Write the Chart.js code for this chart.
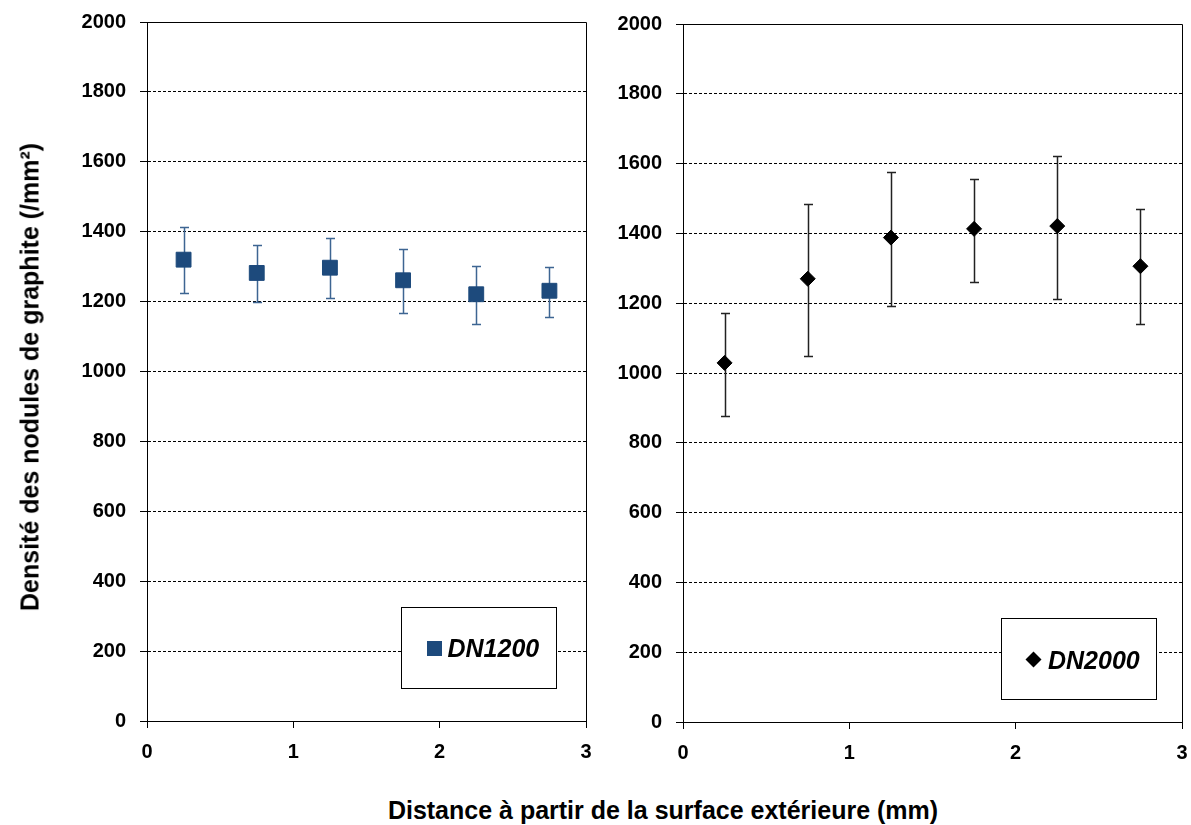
<!DOCTYPE html>
<html>
<head>
<meta charset="utf-8">
<script src="https://cdn.jsdelivr.net/npm/chart.js@4"></script>
<style>
  body { margin: 0; background: #fff; }
  #wrap { position: relative; width: 1191px; height: 825px; overflow: hidden; font-family: 'Liberation Sans', Arial, sans-serif; }
  canvas { position: absolute; top: 0; }
  #yTitle { position: absolute; left: 30px; top: 377px; transform: translate(-50%, -50%) rotate(-90deg); white-space: nowrap; font-weight: bold; font-size: 25px; color: #000; }
  #xTitle { position: absolute; left: 663px; top: 810px; transform: translate(-50%, -50%); white-space: nowrap; font-weight: bold; font-size: 25px; color: #000; }
</style>
</head>
<body>
<div id="wrap">
  <canvas id="left" width="600" height="790" style="left:0"></canvas>
  <canvas id="right" width="651" height="790" style="left:540px"></canvas>
  <div id="yTitle">Densité des nodules de graphite (/mm²)</div>
  <div id="xTitle">Distance à partir de la surface extérieure (mm)</div>
</div>
<script>
// distance (mm) of each measurement
const distances = [0.25, 0.75, 1.25, 1.75, 2.25, 2.75];

// DN1200 : mean and error bar ends
const dn1200 = [1320, 1282, 1297, 1261, 1221, 1231];
const dn1200Low = [1226, 1199, 1210, 1168, 1136, 1156];
const dn1200High = [1413, 1362, 1381, 1350, 1303, 1299];

// DN2000
const dn2000 = [1029, 1270, 1388, 1413, 1421, 1306];
const dn2000Low = [877, 1050, 1192, 1261, 1211, 1139];
const dn2000High = [1172, 1485, 1576, 1557, 1623, 1469];

const xMin = 0, xMax = 3, xStep = 1;
const yMin = 0, yMax = 2000, yStep = 200;

const FONT = "'Liberation Sans', Arial, sans-serif";

// vertical error bars with caps, drawn under the markers
const errorBars = {
  id: 'errorBars',
  beforeDatasetsDraw(chart, args, opts) {
    const { ctx, scales: { x, y } } = chart;
    ctx.save();
    ctx.strokeStyle = opts.color;
    ctx.lineWidth = opts.width;
    opts.low.forEach((lo, i) => {
      const px = Math.round(x.getPixelForValue(opts.xs[i])) + 0.5;
      const yl = Math.round(y.getPixelForValue(lo)) + 0.5;
      const yh = Math.round(y.getPixelForValue(opts.high[i])) + 0.5;
      ctx.beginPath();
      ctx.moveTo(px, yl); ctx.lineTo(px, yh);
      ctx.moveTo(px - opts.cap, yl); ctx.lineTo(px + opts.cap, yl);
      ctx.moveTo(px - opts.cap, yh); ctx.lineTo(px + opts.cap, yh);
      ctx.stroke();
    });
    ctx.restore();
  }
};

// solid top/right frame over the dashed 2000 line
const frame = {
  id: 'frame',
  afterDraw(chart) {
    const { ctx, chartArea: a } = chart;
    ctx.save();
    ctx.strokeStyle = '#000';
    ctx.lineWidth = 1;
    ctx.beginPath();
    ctx.moveTo(Math.round(a.left) + 0.5, Math.round(a.top) + 0.5);
    ctx.lineTo(Math.round(a.right) + 0.5, Math.round(a.top) + 0.5);
    ctx.lineTo(Math.round(a.right) + 0.5, Math.round(a.bottom) + 0.5);
    ctx.stroke();
    ctx.restore();
  }
};

// boxed legend inside the plot, bottom right
const boxLegend = {
  id: 'boxLegend',
  afterDraw(chart, args, o) {
    const { ctx, chartArea: a } = chart;
    const left = Math.round(a.right - o.right - o.w) + 0.5;
    const top = Math.round(a.bottom - o.bottom - o.h) + 0.5;
    ctx.save();
    ctx.fillStyle = '#fff';
    ctx.fillRect(left, top, o.w, o.h);
    ctx.strokeStyle = '#000';
    ctx.lineWidth = 1;
    ctx.strokeRect(left, top, o.w, o.h);
    ctx.fillStyle = o.color;
    const mx = left + o.markerX, my = top + o.markerY, s = o.markerSize;
    ctx.beginPath();
    if (o.marker === 'rect') {
      ctx.rect(mx - s, my - s, 2 * s, 2 * s);
    } else {
      ctx.moveTo(mx, my - s); ctx.lineTo(mx + s, my);
      ctx.lineTo(mx, my + s); ctx.lineTo(mx - s, my);
      ctx.closePath();
    }
    ctx.fill();
    ctx.fillStyle = '#000';
    ctx.font = 'italic bold 25px ' + FONT;
    ctx.textBaseline = 'alphabetic';
    ctx.fillText(o.label, left + o.textX, top + o.textY);
    ctx.restore();
  }
};

function makeChart(id, cfg) {
  const tickFont = { family: FONT, size: 20, weight: 'bold' };
  const points = distances.map((d, i) => ({ x: d, y: cfg.values[i] }));
  return new Chart(document.getElementById(id), {
    type: 'scatter',
    data: {
      datasets: [{
        label: cfg.label,
        data: points,
        showLine: false,
        pointStyle: cfg.pointStyle,
        pointRadius: cfg.pointRadius,
        pointHoverRadius: cfg.pointRadius,
        backgroundColor: cfg.color,
        borderColor: cfg.color,
        borderWidth: 1
      }]
    },
    options: {
      responsive: false,
      animation: false,
      devicePixelRatio: 1,
      layout: { padding: { top: cfg.padTop, right: cfg.padRight, left: 0, bottom: 0 } },
      plugins: {
        legend: { display: false },
        tooltip: { enabled: false },
        errorBars: { xs: distances, low: cfg.low, high: cfg.high, color: cfg.barColor, width: 1.5, cap: 4.5 },
        boxLegend: cfg.legend
      },
      scales: {
        x: {
          type: 'linear', min: xMin, max: xMax,
          afterFit: s => { s.height = cfg.xHeight; s.paddingLeft = 0; s.paddingRight = 0; },
          ticks: { stepSize: xStep, font: tickFont, color: '#000', padding: 12, maxRotation: 0,
                   callback: v => String(v) },
          grid: { drawOnChartArea: false, drawTicks: true, tickLength: 7, color: '#000', tickColor: '#000' },
          border: { color: '#000', width: 1 }
        },
        y: {
          type: 'linear', min: yMin, max: yMax,
          afterFit: s => { s.width = cfg.yWidth; s.paddingTop = 0; s.paddingBottom = 0; },
          ticks: { stepSize: yStep, font: tickFont, color: '#000', padding: 14,
                   callback: v => String(v) },
          grid: { color: '#000', lineWidth: 1, tickLength: 7, tickColor: '#000' },
          border: { color: '#000', width: 1, dash: [3, 2] }
        }
      }
    },
    plugins: [errorBars, frame, boxLegend]
  });
}

makeChart('left', {
  label: 'DN1200', values: dn1200, low: dn1200Low, high: dn1200High,
  pointStyle: 'rect', pointRadius: 10.5, color: '#1d4a7c', barColor: '#3d6592',
  padTop: 22, padRight: 14, yWidth: 147, xHeight: 69,
  legend: { label: 'DN1200', marker: 'rect', color: '#1d4a7c', right: 30, bottom: 33, w: 155, h: 81,
            markerX: 33, markerY: 41, markerSize: 7.5, textX: 46, textY: 49.5 }
});

makeChart('right', {
  label: 'DN2000', values: dn2000, low: dn2000Low, high: dn2000High,
  pointStyle: 'rectRot', pointRadius: 7.5, color: '#000', barColor: '#222',
  padTop: 24, padRight: 9, yWidth: 143, xHeight: 68,
  legend: { label: 'DN2000', marker: 'diamond', color: '#000', right: 26, bottom: 23, w: 155, h: 81,
            markerX: 32, markerY: 41, markerSize: 8, textX: 46.5, textY: 50 }
});
</script>
</body>
</html>
